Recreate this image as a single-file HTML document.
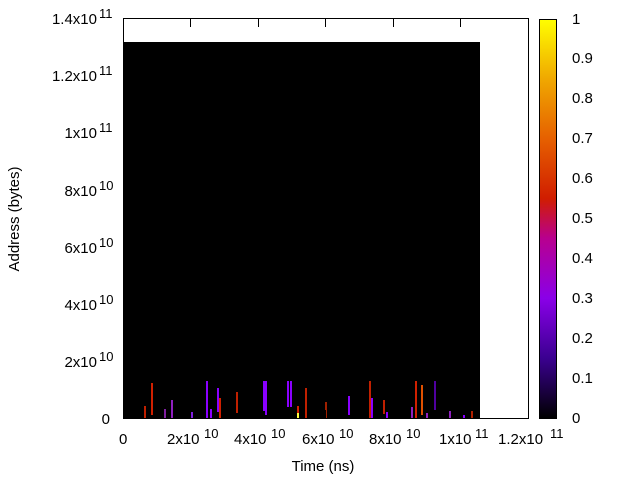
<!DOCTYPE html><html><head><style>body{margin:0;background:#fff}svg text{font-family:"Liberation Sans",sans-serif;font-size:15px;fill:#000}</style></head><body>
<svg width="640" height="480" xmlns="http://www.w3.org/2000/svg">
<defs><linearGradient id="g" x1="0" y1="1" x2="0" y2="0">
<stop offset="0" stop-color="#000"/><stop offset="0.15" stop-color="#3a0090"/><stop offset="0.3" stop-color="#8a00e8"/><stop offset="0.45" stop-color="#b8008f"/><stop offset="0.55" stop-color="#d01d00"/><stop offset="0.7" stop-color="#e66000"/><stop offset="0.85" stop-color="#f0a800"/><stop offset="1" stop-color="#ffff00"/></linearGradient></defs>
<rect x="123" y="42" width="357" height="377" fill="#000"/>
<g stroke-width="2">
<line x1="145" y1="406" x2="145" y2="419" stroke="#c02000"/>
<line x1="152" y1="383" x2="152" y2="415" stroke="#d02000"/>
<line x1="165" y1="409" x2="165" y2="419" stroke="#8020a0"/>
<line x1="172" y1="400" x2="172" y2="419" stroke="#9020c0"/>
<line x1="192" y1="412" x2="192" y2="419" stroke="#8020e0"/>
<line x1="207" y1="381" x2="207" y2="419" stroke="#8a00ff"/>
<line x1="211" y1="409" x2="211" y2="419" stroke="#8a00ff"/>
<line x1="218" y1="388" x2="218" y2="412" stroke="#8a00ff"/>
<line x1="220" y1="398" x2="220" y2="419" stroke="#d02000"/>
<line x1="237" y1="392" x2="237" y2="413" stroke="#c02000"/>
<line x1="264" y1="381" x2="264" y2="411" stroke="#8a00ff"/>
<line x1="266" y1="381" x2="266" y2="415" stroke="#8a00ff"/>
<line x1="288" y1="381" x2="288" y2="407" stroke="#8a00ff"/>
<line x1="291" y1="381" x2="291" y2="407" stroke="#8a00ff"/>
<line x1="298" y1="406" x2="298" y2="419" stroke="#d02000"/>
<line x1="298" y1="413" x2="298" y2="419" stroke="#ffff40"/>
<line x1="306" y1="388" x2="306" y2="419" stroke="#c02000"/>
<line x1="326" y1="402" x2="326" y2="419" stroke="#a02000"/>
<line x1="349" y1="396" x2="349" y2="415" stroke="#8a00ff"/>
<line x1="370" y1="381" x2="370" y2="419" stroke="#c02000"/>
<line x1="372" y1="398" x2="372" y2="419" stroke="#8a00ff"/>
<line x1="384" y1="400" x2="384" y2="414" stroke="#c02000"/>
<line x1="387" y1="412" x2="387" y2="419" stroke="#8a00ff"/>
<line x1="412" y1="407" x2="412" y2="419" stroke="#9020c0"/>
<line x1="416" y1="381" x2="416" y2="419" stroke="#d02000"/>
<line x1="422" y1="385" x2="422" y2="415" stroke="#e05000"/>
<line x1="427" y1="413" x2="427" y2="419" stroke="#9020c0"/>
<line x1="435" y1="381" x2="435" y2="410" stroke="#5000a0"/>
<line x1="450" y1="411" x2="450" y2="419" stroke="#9020c0"/>
<line x1="464" y1="415" x2="464" y2="419" stroke="#8a00ff"/>
<line x1="472" y1="411" x2="472" y2="419" stroke="#b02000"/>
</g>
<rect x="123.5" y="18.5" width="405" height="400" fill="none" stroke="#000"/>
<g stroke="#000">
<line x1="123" y1="18.5" x2="132" y2="18.5"/><line x1="123" y1="361.5" x2="132" y2="361.5"/>
<line x1="123" y1="304.5" x2="132" y2="304.5"/><line x1="123" y1="247.5" x2="132" y2="247.5"/>
<line x1="123" y1="190.5" x2="132" y2="190.5"/><line x1="123" y1="132.5" x2="132" y2="132.5"/><line x1="123" y1="75.5" x2="132" y2="75.5"/>
<line x1="190.5" y1="419" x2="190.5" y2="410"/><line x1="258.5" y1="419" x2="258.5" y2="410"/><line x1="325.5" y1="419" x2="325.5" y2="410"/><line x1="393.5" y1="419" x2="393.5" y2="410"/><line x1="460.5" y1="419" x2="460.5" y2="410"/>
<line x1="190.5" y1="18" x2="190.5" y2="27"/><line x1="258.5" y1="18" x2="258.5" y2="27"/><line x1="325.5" y1="18" x2="325.5" y2="27"/><line x1="393.5" y1="18" x2="393.5" y2="27"/><line x1="460.5" y1="18" x2="460.5" y2="27"/>
</g>
<rect x="539" y="19" width="17" height="399" fill="url(#g)"/>
<rect x="539.5" y="19.5" width="17" height="399" fill="none" stroke="#000"/>
<g text-anchor="end">
<text x="110" y="424">0</text>
<text x="97" y="367">2x10</text><text x="97" y="310">4x10</text><text x="97" y="253">6x10</text><text x="97" y="196">8x10</text><text x="97" y="138">1x10</text><text x="97" y="81">1.2x10</text><text x="97" y="24">1.4x10</text>
</g>
<g font-size="13"><text x="99" y="361" style="font-size:13px">10</text><text x="99" y="304" style="font-size:13px">10</text><text x="99" y="247" style="font-size:13px">10</text><text x="99" y="190" style="font-size:13px">10</text><text x="99" y="132" style="font-size:13px">11</text><text x="99" y="75" style="font-size:13px">11</text><text x="99" y="18" style="font-size:13px">11</text></g>
<text x="119" y="444">0</text>
<text x="167" y="444">2x10</text><text x="204" y="438" style="font-size:13px">10</text>
<text x="234" y="444">4x10</text><text x="271" y="438" style="font-size:13px">10</text>
<text x="302" y="444">6x10</text><text x="339" y="438" style="font-size:13px">10</text>
<text x="369" y="444">8x10</text><text x="406" y="438" style="font-size:13px">10</text>
<text x="439" y="444">1x10</text><text x="475" y="438" style="font-size:13px">11</text>
<text x="498" y="444">1.2x10</text><text x="550" y="438" style="font-size:13px">11</text>
<g><text x="572" y="24">1</text><text x="572" y="63">0.9</text><text x="572" y="103">0.8</text><text x="572" y="143">0.7</text><text x="572" y="183">0.6</text><text x="572" y="223">0.5</text><text x="572" y="263">0.4</text><text x="572" y="303">0.3</text><text x="572" y="343">0.2</text><text x="572" y="383">0.1</text><text x="572" y="423">0</text></g>
<text x="323" y="471" text-anchor="middle">Time (ns)</text>
<text transform="translate(19,219) rotate(-90)" text-anchor="middle">Address (bytes)</text>
</svg></body></html>
